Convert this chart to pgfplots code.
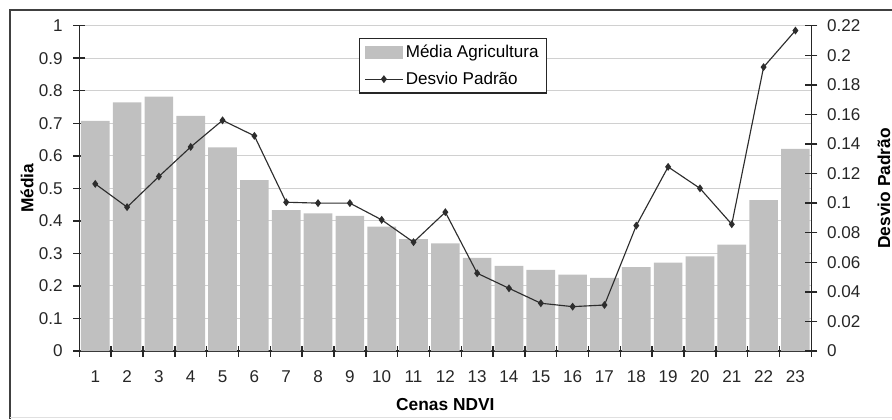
\documentclass[border=0pt]{standalone}
\usepackage{fontspec}
\setmainfont{Liberation Sans}
\usepackage{pgfplots}
\pgfplotsset{compat=1.18}
\definecolor{barg}{RGB}{192,192,192}
\definecolor{gridg}{RGB}{208,208,208}
\definecolor{lineg}{RGB}{45,45,45}
\pgfplotsset{
  barlegend/.style={legend image code/.code={\fill[##1] (0pt,-5pt) rectangle (28pt,5pt);}},
  linelegend/.style={legend image code/.code={\draw[mark repeat=2,mark phase=2,##1] plot coordinates {(0pt,0pt) (14pt,0pt) (28pt,0pt)};}},
}
\begin{document}
\begin{tikzpicture}
\path[use as bounding box] (0pt,0pt) rectangle (669pt,314.25pt);
\draw[black!75, line width=1.1pt] (7.5pt,0pt) -- (7.5pt,306.75pt) -- (669pt,306.75pt);
\draw[black!12, line width=0.5pt] (7.5pt,1.2pt) -- (669pt,1.2pt);
\pgfinterruptboundingbox
\pgfplotsset{every axis/.append style={
  scale only axis, width=549pt, height=244pt, xmin=0.5, xmax=23.5,
  /pgf/number format/assume math mode=true,
  tick label style={font=\fontsize{12.8}{14}\selectfont, text=black!85},
  label style={font=\bfseries\fontsize{13}{15}\selectfont},
  tick align=center, major tick length=9pt, minor tick length=8.25pt,
  tick style={black!85, line width=1.1pt},
  axis line style={black!85, line width=1.1pt},
}}
\begin{axis}[at={(59.5pt,51pt)}, anchor=south west,
  axis x line*=bottom, axis y line*=left,
  ymin=0, ymax=1,
  ytick={0,0.1,0.2,0.3,0.4,0.5,0.6,0.7,0.8,0.9,1},
  yticklabels={0,0.1,0.2,0.3,0.4,0.5,0.6,0.7,0.8,0.9,1},
  yticklabel style={xshift=-4.5pt},
  xtick={1,...,23},
  xticklabel style={yshift=-7pt},
  major x tick style={draw=none},
  minor xtick={0.5,1.5,...,23.5},
  ymajorgrids, grid style={gridg, line width=0.8pt},
  xlabel={Cenas NDVI}, ylabel={Média},
  xlabel style={at={(axis description cs:0.5,-0.166)}, anchor=center},
  ylabel style={at={(axis description cs:-0.0714,0.5)}, anchor=center},
]
\addplot[ybar, bar width=0.9, fill=barg, draw=none] coordinates {
(1,0.707) (2,0.764) (3,0.782) (4,0.723) (5,0.626) (6,0.525) (7,0.433) (8,0.423)
(9,0.415) (10,0.382) (11,0.344) (12,0.331) (13,0.286) (14,0.262) (15,0.249)
(16,0.235) (17,0.225) (18,0.258) (19,0.272) (20,0.291) (21,0.327) (22,0.464) (23,0.621)};
\end{axis}
\begin{axis}[at={(59.5pt,51pt)}, anchor=south west,
  axis x line=none, axis y line*=right,
  ymin=0, ymax=0.22,
  ytick={0,0.02,0.04,0.06,0.08,0.1,0.12,0.14,0.16,0.18,0.2,0.22},
  yticklabels={0,0.02,0.04,0.06,0.08,0.1,0.12,0.14,0.16,0.18,0.2,0.22},
  yticklabel style={xshift=3.75pt},
  ylabel={Desvio Padrão},
  ylabel style={at={(axis description cs:1.0993,0.5)}, anchor=center},
  legend style={at={(0.5104,0.8764)}, anchor=center, draw=black!85, line width=0.9pt,
    font=\fontsize{12.8}{14}\selectfont, row sep=5pt, inner xsep=4pt, inner ysep=3pt},
  legend cell align=left,
]
\addlegendimage{fill=barg, draw=none, barlegend}
\addlegendentry{Média Agricultura}
\addplot[lineg, line width=0.85pt, mark=diamond*, mark size=2.3pt, mark options={fill=lineg}, linelegend]
coordinates {
(1,0.113) (2,0.0973) (3,0.118) (4,0.138) (5,0.156) (6,0.1455) (7,0.1006) (8,0.100)
(9,0.100) (10,0.0887) (11,0.0736) (12,0.0939) (13,0.0526) (14,0.0424) (15,0.0323)
(16,0.030) (17,0.0311) (18,0.0848) (19,0.1245) (20,0.110) (21,0.0857) (22,0.192) (23,0.2167)};
\addlegendentry{Desvio Padrão}
\end{axis}
\endpgfinterruptboundingbox
\end{tikzpicture}
\end{document}
